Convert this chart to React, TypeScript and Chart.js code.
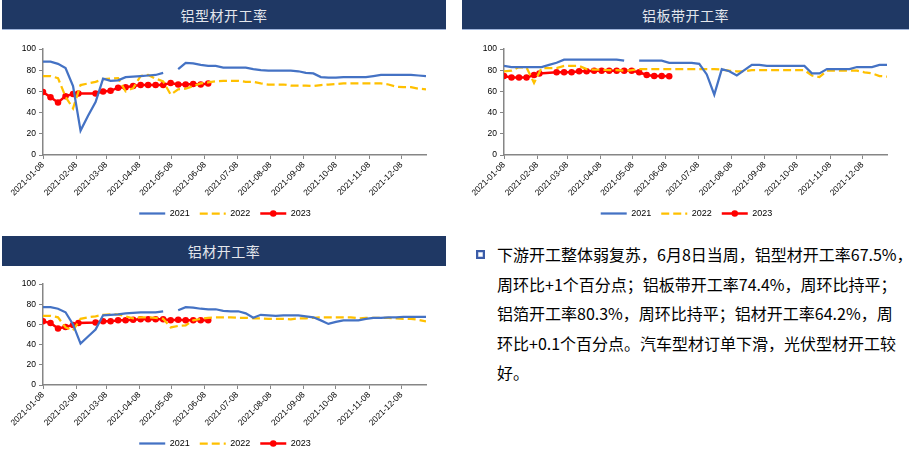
import React, { useEffect, useRef } from 'react';
import { Chart, registerables } from 'chart.js';

Chart.register(...registerables);

// ---- x axis (days after 2021-01-08) ----
const MONTH_TICK_LABELS = ['2021-01-08', '2021-02-08', '2021-03-08', '2021-04-08', '2021-05-08', '2021-06-08', '2021-07-08', '2021-08-08', '2021-09-08', '2021-10-08', '2021-11-08', '2021-12-08'];
const MONTH_TICK_DAYS = [0, 31, 59, 90, 120, 151, 181, 212, 243, 273, 304, 334];
const WEEK_DAYS = [0, 7, 14, 21, 28, 35, 42, 49, 56, 63, 70, 77, 84, 91, 98, 105, 112, 119, 126, 133, 140, 147, 154, 161, 168, 175, 182, 189, 196, 203, 210, 217, 224, 231, 238, 245, 252, 259, 266, 273, 280, 287, 294, 301, 308, 315, 322, 329, 336, 343, 350, 357];
const DAYS_2023 = [0, 7, 14, 21, 28, 33, 49, 56, 63, 70, 77, 84, 91, 98, 105, 112, 119, 126, 133, 140, 147, 154];
const SERIES_LABELS = ['2021', '2022', '2023'];

// ---- 铝型材开工率 ----
const PROFILE_2021 = [88, 88, 86, 82, 65, 23, 37, 50, 72, 70, 70.5, 73.5, 74, 74.5, 75, 75.5, 77.5, null, 81, 87, 86.5, 85, 84, 84, 82.5, 82.5, 82.5, 82.5, 81, 80, 79.5, 79.5, 79.5, 79.5, 79, 77.5, 77, 73.5, 73, 73, 73.5, 73.5, 73.5, 73.5, 74.5, 75.5, 75.5, 75.5, 75.5, 75.5, 75, 74.5];
const PROFILE_2022 = [74.5, 74.5, 72.5, 55, 44, 66, 67.5, 69, 71.5, 72, 72.5, 60, 63, 74.5, 75.5, 72, 69.5, 57, 62, 62.5, 65, 67.5, 68.5, 69.5, 70, 70, 70, 69, 69, 67.5, 66.5, 66.5, 66.5, 65.5, 65.5, 65.5, 65, 66, 66.5, 67, 67.5, 67.5, 67.5, 67.5, 67.5, 67.5, 66.5, 64.5, 64, 64, 62.5, 62];
const PROFILE_2023 = [59.5, 54.5, 49.5, 55.5, 57.5, 58, 58, 60, 60.5, 63.5, 64, 65, 66, 66, 66, 66, 68, 66.5, 66.5, 67, 66.5, 67.5];

// ---- 铝板带开工率 ----
const STRIP_2021 = [84, 83, 83, 83, 83, 83, 85, 87, 90, 90, 90, 90, 90, 90, 90, 90, 89, null, 89, 89, 89, 89, 87, 87, 87, 87, 86, 76, 57, 81, 79, 75, 80, 85, 85, 84, 84, 84, 84, 84, 84, 77, 77, 81, 81, 81, 81, 83, 83, 83, 85, 85];
const STRIP_2022 = [79, 79.5, 83, 82.5, 68, 82, 82, 82, 84, 84, 84, 81, 80.5, 80.5, 80, 80, 79.5, 80, 81, 81, 81, 81, 81, 81, 81, 81, 81, 81, 81, 80.5, 79.5, 79, 79, 80, 80, 80, 80, 80, 80, 80, 80, 75, 73.5, 79.5, 79.5, 79.5, 79.5, 79.5, 78, 77, 74.5, 74];
const STRIP_2023 = [74.5, 73, 73, 73, 75.5, 77, 78, 78, 78, 79, 79, 79.5, 79.5, 79.5, 79.5, 79.5, 79.5, 78, 75.5, 74.5, 74.5, 74.4];

// ---- 铝材开工率 ----
const TOTAL_2021 = [77, 77, 75.5, 72, 60, 41, 48, 55, 69, 69.5, 70, 71, 71.5, 72, 72, 72, 73, null, 74, 77, 76.5, 75.5, 75, 75, 73.5, 73, 73, 71, 66.5, 69.5, 69, 68.5, 69, 69, 69, 68, 67, 64, 60.5, 62.5, 64, 64, 64, 65.5, 66.5, 66.5, 67, 67, 67.5, 67.5, 67.5, 67.5];
const TOTAL_2022 = [68.5, 68.5, 67, 57, 54, 65.5, 67, 68, 69.5, 70, 70, 68, 66, 67, 67, 66.5, 65.5, 57, 58.5, 59, 64, 65.5, 66.5, 67, 67, 67, 66.5, 66.5, 66, 66, 65.5, 65.5, 65.5, 65, 66, 66, 66.5, 67, 67, 67, 67, 67, 66, 66.5, 66.5, 66.5, 66.5, 66, 65.5, 65.5, 64.5, 63];
const TOTAL_2023 = [63, 61.5, 56, 57.5, 59.5, 61.5, 62, 63, 63, 64, 64, 64.5, 65, 65, 65, 65, 64, 64.5, 64, 64, 64, 64.2];

const TITLES = ['铝型材开工率', '铝板带开工率', '铝材开工率'];
const TEXT_LINES = [
  '下游开工整体弱复苏，6月8日当周，铝型材开工率67.5%，',
  '周环比+1个百分点；铝板带开工率74.4%，周环比持平；',
  '铝箔开工率80.3%，周环比持平；铝材开工率64.2%，周',
  '环比+0.1个百分点。汽车型材订单下滑，光伏型材开工较',
  '好。',
];

const BLUE = '#4472C4';
const YELLOW = '#FFC000';
const RED = '#FF0000';
const AXIS = '#868686';
const NAVY = '#1F3864';
const TICK_FONT = { family: '"Liberation Sans", Arial, sans-serif', size: 8.5 };
const LEGEND_FONT = { family: '"Liberation Sans", Arial, sans-serif', size: 9 };
const LEGEND_BOX = 26;

const legendSamples = {
  id: 'legendSamples',
  afterDraw(chart: any) {
    const lg = chart.legend;
    if (!lg || !lg.legendHitBoxes) return;
    const ctx = chart.ctx;
    lg.legendHitBoxes.forEach((hb: any, i: number) => {
      const ds = chart.data.datasets[i];
      const y = hb.top + hb.height / 2;
      const x0 = hb.left;
      const x1 = hb.left + LEGEND_BOX;
      ctx.save();
      ctx.strokeStyle = ds.borderColor;
      ctx.lineWidth = ds.borderWidth;
      ctx.setLineDash(ds.borderDash || []);
      ctx.beginPath();
      ctx.moveTo(x0, y);
      ctx.lineTo(x1, y);
      ctx.stroke();
      if (ds.pointRadius > 0) {
        ctx.setLineDash([]);
        ctx.fillStyle = ds.borderColor;
        ctx.beginPath();
        ctx.arc((x0 + x1) / 2, y, ds.pointRadius, 0, Math.PI * 2);
        ctx.fill();
      }
      ctx.restore();
    });
  },
};

type PanelProps = {
  left: number; top: number; width: number; height: number;
  padLeft: number; padTop: number; yWidth: number; rightGap: number; xHeight: number;
  v2021: (number | null)[]; v2022: number[]; v2023: number[];
};

function LinePanel(p: PanelProps) {
  const ref = useRef<HTMLCanvasElement>(null);
  useEffect(() => {
    const pts = (days: number[], vals: (number | null)[]) => days.map((d, i) => ({ x: d, y: vals[i] }));
    const chart = new Chart(ref.current as HTMLCanvasElement, {
      type: 'line',
      data: {
        datasets: [
          { label: SERIES_LABELS[0], data: pts(WEEK_DAYS, p.v2021), borderColor: BLUE, backgroundColor: BLUE, borderWidth: 2.25, pointRadius: 0, spanGaps: false, tension: 0 },
          { label: SERIES_LABELS[1], data: pts(WEEK_DAYS, p.v2022), borderColor: YELLOW, backgroundColor: YELLOW, borderWidth: 2.25, borderDash: [8, 4], pointRadius: 0, tension: 0 },
          { label: SERIES_LABELS[2], data: pts(DAYS_2023, p.v2023), borderColor: RED, backgroundColor: RED, borderWidth: 2.5, pointRadius: 3.25, pointBackgroundColor: RED, pointBorderWidth: 0, tension: 0 },
        ] as any,
      },
      options: {
        animation: false,
        responsive: false,
        maintainAspectRatio: false,
        layout: { padding: { top: p.padTop, left: p.padLeft, right: 0, bottom: 0 } },
        scales: {
          x: {
            type: 'linear', min: 0, max: 357,
            afterBuildTicks: (s: any) => { s.ticks = MONTH_TICK_DAYS.map((v) => ({ value: v })); },
            ticks: {
              autoSkip: false, maxRotation: 45, minRotation: 45, padding: 1,
              font: TICK_FONT, color: '#000',
              callback: (v: any) => MONTH_TICK_LABELS[MONTH_TICK_DAYS.indexOf(Number(v))],
            },
            grid: { display: true, drawOnChartArea: false, drawTicks: true, tickLength: 4, color: AXIS },
            border: { color: AXIS, width: 1.5 },
            afterFit: (s: any) => { s.height = p.xHeight; },
          },
          y: {
            min: 0, max: 100,
            ticks: { stepSize: 20, font: TICK_FONT, color: '#000', padding: 3 },
            grid: { display: true, drawOnChartArea: false, drawTicks: true, tickLength: 4, color: AXIS },
            border: { color: AXIS, width: 1.5 },
            afterFit: (s: any) => { s.width = p.yWidth; },
          },
          yr: {
            position: 'right', display: true,
            grid: { display: false }, border: { display: false }, ticks: { display: false },
            afterFit: (s: any) => { s.width = p.rightGap; },
          },
        } as any,
        plugins: {
          legend: {
            position: 'bottom',
            labels: {
              boxWidth: LEGEND_BOX, boxHeight: 9, padding: 10,
              font: LEGEND_FONT, color: '#000',
              generateLabels: (c: any) => c.data.datasets.map((ds: any, i: number) => ({
                text: ds.label, fillStyle: 'rgba(0,0,0,0)', strokeStyle: 'rgba(0,0,0,0)', lineWidth: 0, datasetIndex: i, hidden: false,
              })),
            },
          },
          tooltip: { enabled: false },
        },
      },
      plugins: [legendSamples],
    });
    return () => chart.destroy();
  }, []);
  return (
    <canvas ref={ref} width={p.width} height={p.height}
      style={{ position: 'absolute', left: p.left, top: p.top, width: p.width, height: p.height, display: 'block' }} />
  );
}

function Header({ left, top, width, height, text, border }: { left: number; top: number; width: number; height: number; text: string; border: boolean }) {
  return (
    <div style={{
      position: 'absolute', left, top, width, height, background: NAVY,
      borderBottom: border ? '1px solid #9fb4da' : 'none',
      color: '#e3e6ec', fontFamily: '"Noto Sans CJK SC", sans-serif', fontSize: 14,
      display: 'flex', alignItems: 'center', justifyContent: 'center', letterSpacing: 0.5,
    }}>{text}</div>
  );
}

export default function App() {
  return (
    <div style={{ position: 'absolute', left: 0, top: 0, width: 909, height: 454, overflow: 'hidden', background: '#fff' }}>
      <Header left={2} top={0} width={444} height={29} text={TITLES[0]} border />
      <Header left={462} top={0} width={447} height={29} text={TITLES[1]} border />
      <Header left={2} top={236} width={444} height={30} text={TITLES[2]} border={false} />
      <LinePanel left={0} top={30} width={450} height={198} padLeft={0} padTop={19} yWidth={43} rightGap={24} xHeight={44}
        v2021={PROFILE_2021} v2022={PROFILE_2022} v2023={PROFILE_2023} />
      <LinePanel left={455} top={30} width={454} height={198} padLeft={9} padTop={19} yWidth={40} rightGap={22} xHeight={44}
        v2021={STRIP_2021} v2022={STRIP_2022} v2023={STRIP_2023} />
      <LinePanel left={0} top={266} width={450} height={192} padLeft={0} padTop={18} yWidth={43} rightGap={24} xHeight={44}
        v2021={TOTAL_2021} v2022={TOTAL_2022} v2023={TOTAL_2023} />
      <div style={{ position: 'absolute', left: 476, top: 250, width: 5, height: 5, border: '2px solid #3b5ca8', boxShadow: 'inset 0 0 0 0.5px #8fa6d6' }} />
      <div style={{
        position: 'absolute', left: 497, top: 240, fontFamily: '"Noto Sans CJK SC", sans-serif',
        fontSize: 16, lineHeight: '29.5px', color: '#000', whiteSpace: 'nowrap',
      }}>
        {TEXT_LINES.map((t, i) => <div key={i}>{t}</div>)}
      </div>
    </div>
  );
}
